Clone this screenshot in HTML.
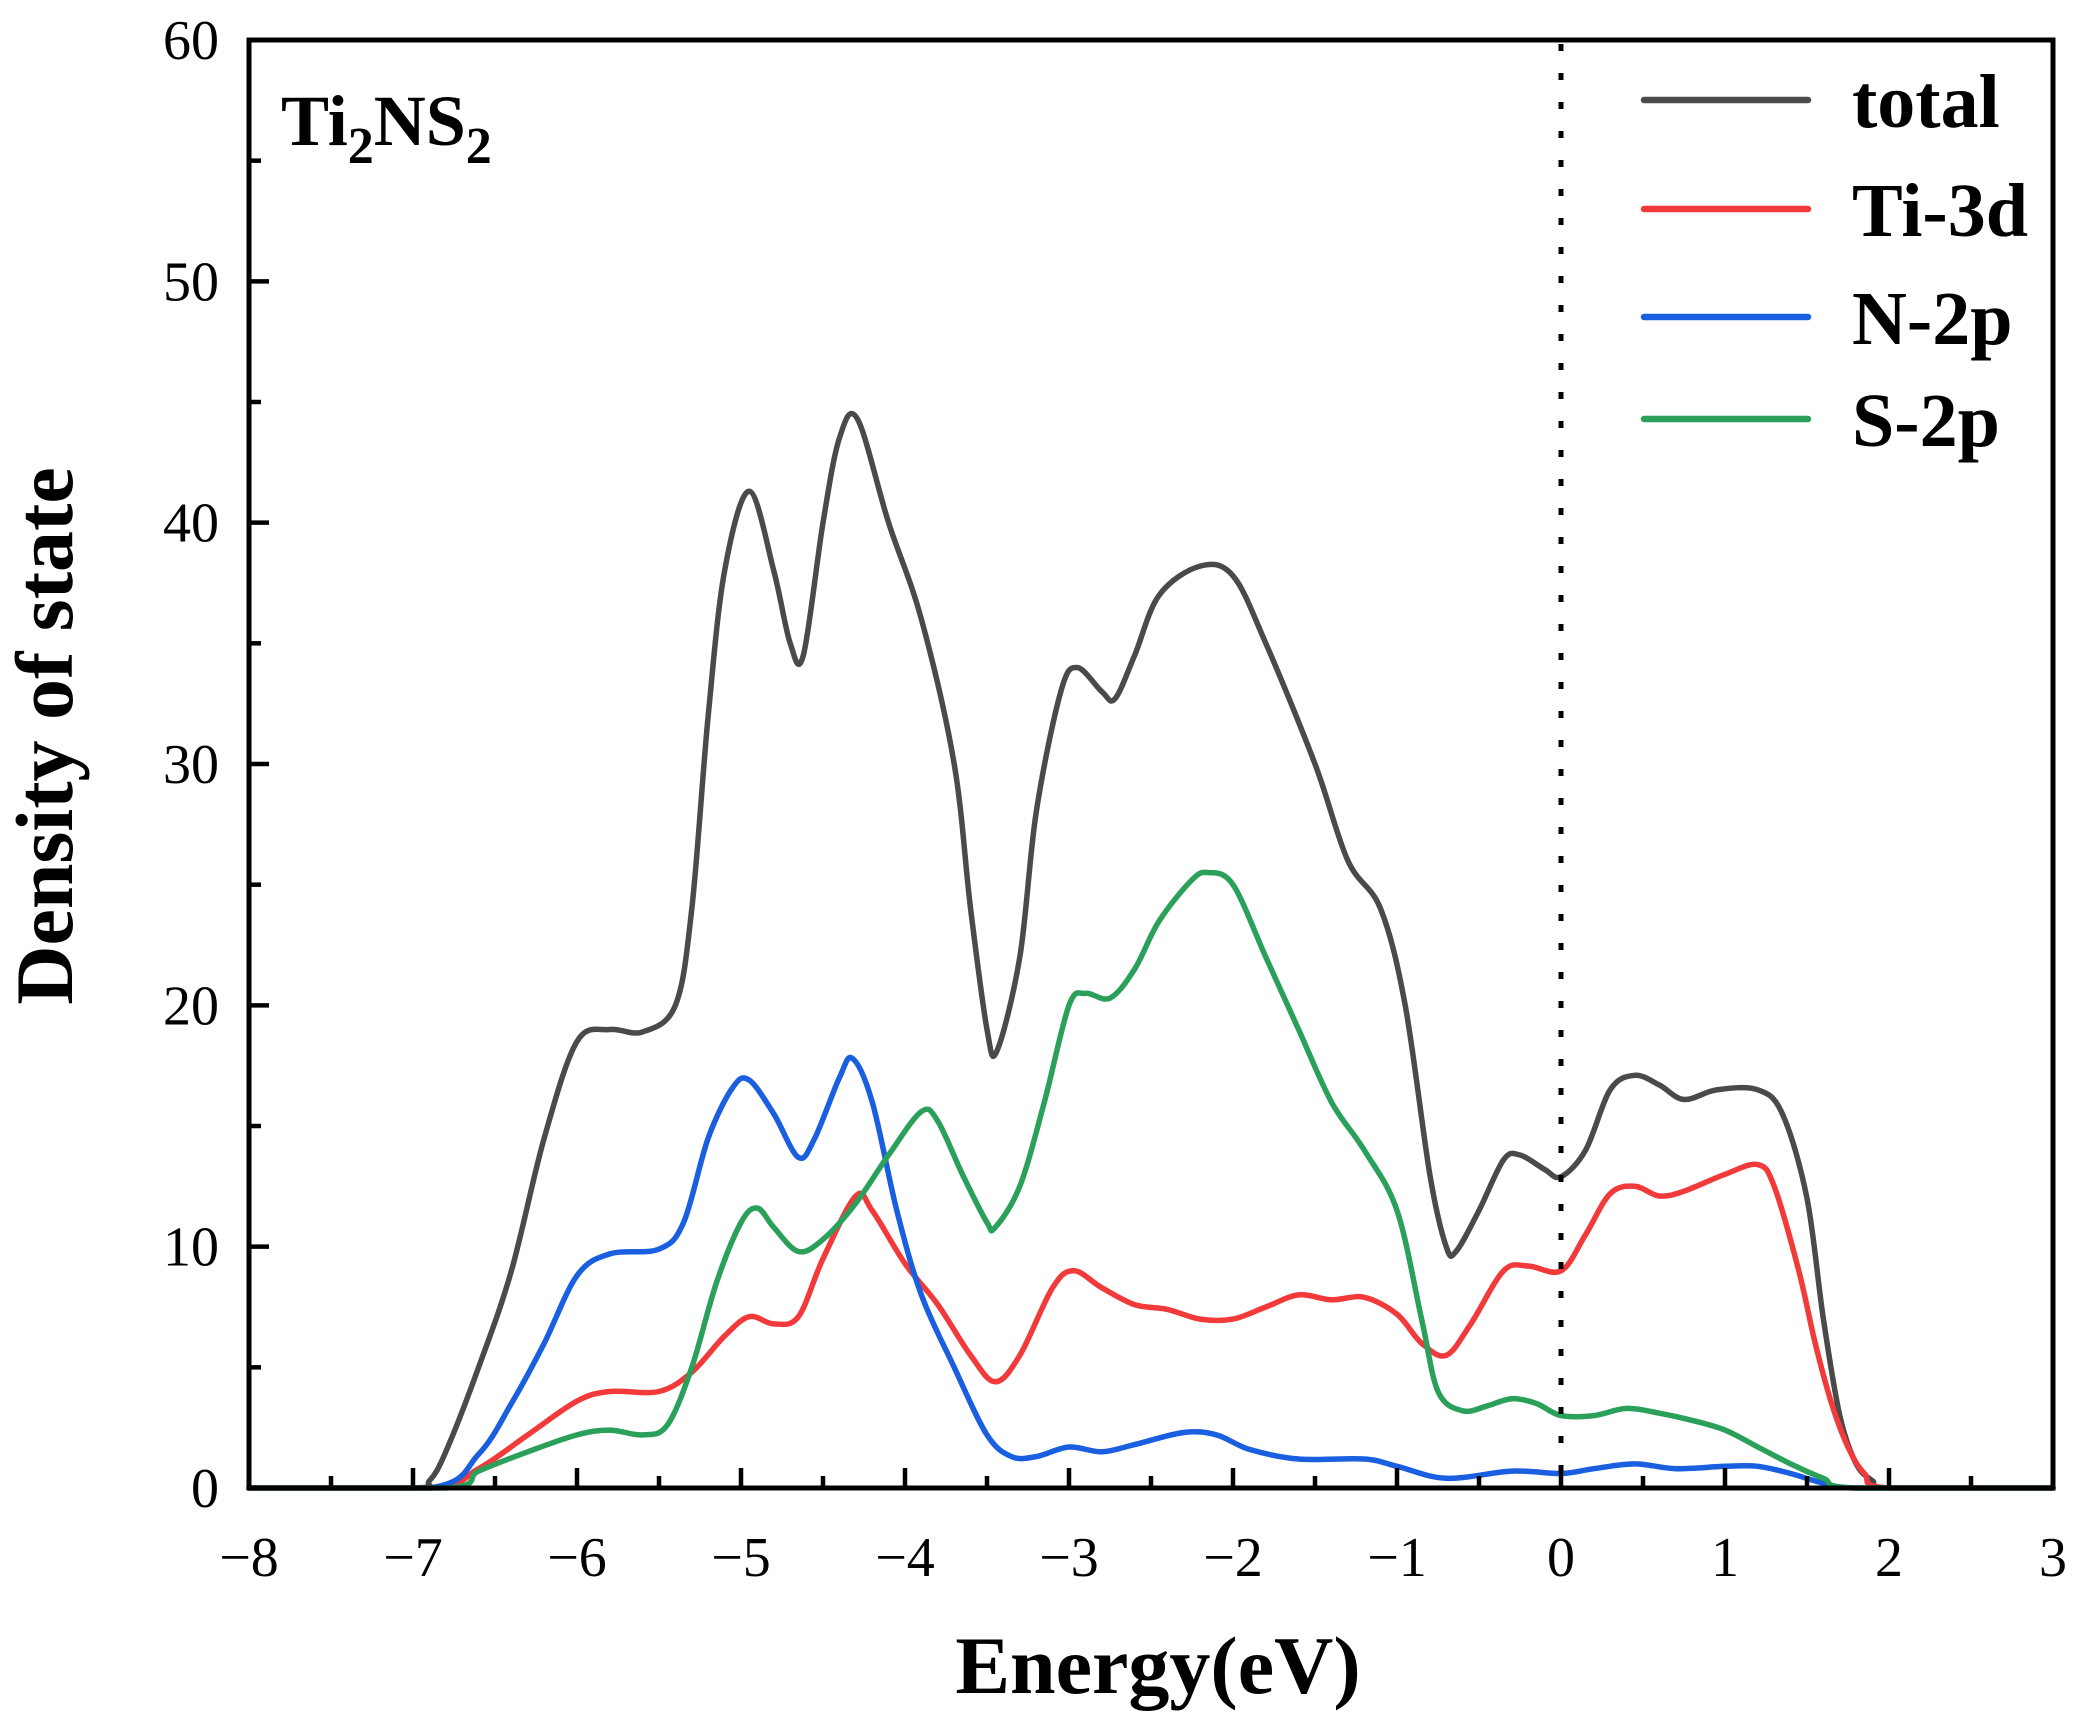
<!DOCTYPE html>
<html><head><meta charset="utf-8"><style>
html,body{margin:0;padding:0;background:#fff;}
svg{display:block;}
text{font-family:"Liberation Serif",serif;fill:#000;}
</style></head><body>
<svg id="s" width="2087" height="1720" viewBox="0 0 2087 1720" xmlns="http://www.w3.org/2000/svg">
<g id="curves" fill="none" stroke-width="5.5" stroke-linejoin="round" stroke-linecap="round"></g>
<line x1="1561" y1="44" x2="1561" y2="1486" stroke="#000" stroke-width="5" stroke-dasharray="7,22"/>
<rect x="249" y="40" width="1804" height="1448" fill="none" stroke="#000" stroke-width="5"/>
<g id="ticks" stroke="#000" stroke-width="4.5"></g>
<g id="labels" font-size="56" text-anchor="middle"></g>
<text x="281" y="145" font-size="72" font-weight="bold">Ti<tspan font-size="52" dy="18">2</tspan><tspan dy="-18">NS</tspan><tspan font-size="52" dy="18">2</tspan></text>
<g stroke-width="6.5" stroke-linecap="round">
<line x1="1644" y1="100" x2="1808" y2="100" stroke="#4a4a4a"/>
<line x1="1644" y1="209" x2="1808" y2="209" stroke="#f23a3a"/>
<line x1="1644" y1="317" x2="1808" y2="317" stroke="#1a5fe0"/>
<line x1="1644" y1="419" x2="1808" y2="419" stroke="#2aa05a"/>
</g>
<g font-size="76" font-weight="bold">
<text x="1852" y="127">total</text>
<text x="1852" y="236">Ti-3d</text>
<text x="1852" y="344">N-2p</text>
<text x="1852" y="446">S-2p</text>
</g>
<text x="1158" y="1693" font-size="82" font-weight="bold" text-anchor="middle">Energy(eV)</text>
<text transform="translate(72,736) rotate(-90)" font-size="82" font-weight="bold" text-anchor="middle">Density of state</text>
</svg>
<script>
var L=249,R=2053,T=40,B=1488;
function X(e){return L+(e+8)*(R-L)/11;}
function Y(v){return B-v*(B-T)/60;}
var NS="http://www.w3.org/2000/svg";
var tk=document.getElementById('ticks'),lb=document.getElementById('labels');
function ln(x1,y1,x2,y2){var l=document.createElementNS(NS,'line');l.setAttribute('x1',x1);l.setAttribute('y1',y1);l.setAttribute('x2',x2);l.setAttribute('y2',y2);tk.appendChild(l);}
function tx(x,y,s,a){var t=document.createElementNS(NS,'text');t.setAttribute('x',x);t.setAttribute('y',y);if(a)t.setAttribute('text-anchor',a);t.textContent=s;lb.appendChild(t);}
for(var e=-8;e<=3;e++){var x=X(e);ln(x,B,x,B-20);tx(x,B+88,e<0?'\u2212'+(-e):''+e);if(e<3){ln(X(e+0.5),B,X(e+0.5),B-12);}}
for(var v=0;v<=60;v+=10){var y=Y(v);ln(L,y,L+20,y);tx(L-30,y+19,''+v,'end');if(v<60)ln(L,Y(v+5),L+12,Y(v+5));}
var data={
"#4a4a4a":[[-8,0],[-7,0],[-6.9,0.3],[-6.8,1.5],[-6.6,5],[-6.4,9],[-6.2,14.5],[-6.0,18.5],[-5.8,19],[-5.6,18.9],[-5.4,20],[-5.3,24],[-5.2,32],[-5.1,38],[-4.95,41.3],[-4.8,38],[-4.7,35],[-4.62,34.5],[-4.5,40],[-4.4,43.5],[-4.29,44.3],[-4.1,40],[-3.9,36],[-3.7,30],[-3.6,24],[-3.5,19],[-3.44,18.1],[-3.3,22],[-3.2,28],[-3.05,33],[-2.95,34],[-2.8,33],[-2.72,32.7],[-2.6,34.5],[-2.45,37],[-2.2,38.2],[-2.0,37.8],[-1.8,35],[-1.5,30],[-1.3,26],[-1.1,24],[-0.95,20],[-0.8,13],[-0.7,10],[-0.64,9.8],[-0.5,11.5],[-0.35,13.6],[-0.25,13.8],[-0.1,13.2],[0,12.9],[0.15,14],[0.3,16.5],[0.45,17.1],[0.6,16.7],[0.75,16.1],[0.95,16.5],[1.2,16.5],[1.35,15.5],[1.5,12],[1.6,7],[1.7,3],[1.8,1],[1.9,0.3],[2,0],[3,0]],
"#f23a3a":[[-8,0],[-6.9,0],[-6.6,0.8],[-6.3,2.2],[-6.0,3.6],[-5.8,4],[-5.5,4],[-5.3,4.8],[-5.1,6.3],[-4.95,7.1],[-4.8,6.8],[-4.65,7.1],[-4.5,9.5],[-4.3,12.1],[-4.2,11.5],[-4.0,9.3],[-3.8,7.6],[-3.6,5.5],[-3.45,4.4],[-3.3,5.5],[-3.1,8.3],[-2.97,9.0],[-2.8,8.3],[-2.6,7.6],[-2.4,7.4],[-2.2,7.0],[-2.0,7.0],[-1.8,7.5],[-1.6,8.0],[-1.4,7.8],[-1.2,7.9],[-1.0,7.2],[-0.85,6.0],[-0.7,5.5],[-0.55,6.8],[-0.35,9.0],[-0.2,9.2],[0,9.0],[0.15,10.5],[0.3,12.2],[0.45,12.5],[0.6,12.1],[0.75,12.3],[1.0,13.0],[1.2,13.4],[1.3,12.5],[1.45,9],[1.55,6],[1.65,3.5],[1.75,1.7],[1.85,0.6],[2,0],[3,0]],
"#1a5fe0":[[-8,0],[-6.9,0],[-6.6,1.4],[-6.4,3.5],[-6.2,6],[-6.0,8.8],[-5.8,9.7],[-5.5,9.9],[-5.35,11],[-5.2,14.5],[-5.05,16.6],[-4.95,16.9],[-4.8,15.5],[-4.65,13.7],[-4.55,14.5],[-4.4,17],[-4.32,17.8],[-4.2,16],[-4.05,11.5],[-3.9,8],[-3.7,5],[-3.5,2.2],[-3.35,1.3],[-3.2,1.3],[-3.0,1.7],[-2.8,1.5],[-2.6,1.8],[-2.3,2.3],[-2.1,2.2],[-1.9,1.6],[-1.6,1.2],[-1.2,1.2],[-1.0,0.9],[-0.7,0.4],[-0.3,0.7],[0,0.6],[0.2,0.8],[0.45,1.0],[0.7,0.8],[1.0,0.9],[1.2,0.9],[1.4,0.6],[1.6,0.2],[1.8,0],[3,0]],
"#2aa05a":[[-8,0],[-6.8,0],[-6.6,0.7],[-6.3,1.5],[-6.0,2.2],[-5.8,2.4],[-5.6,2.2],[-5.45,2.6],[-5.3,5],[-5.15,8.5],[-5.0,11],[-4.9,11.6],[-4.8,10.8],[-4.65,9.8],[-4.5,10.3],[-4.3,11.8],[-4.1,13.8],[-3.9,15.6],[-3.8,15.2],[-3.65,13],[-3.5,11],[-3.45,10.8],[-3.3,12.5],[-3.15,16],[-3.0,20],[-2.9,20.5],[-2.75,20.3],[-2.6,21.5],[-2.45,23.5],[-2.25,25.2],[-2.15,25.5],[-2.0,25],[-1.8,22],[-1.6,19],[-1.4,16],[-1.2,14],[-1.0,11.5],[-0.85,7],[-0.75,4],[-0.6,3.2],[-0.45,3.4],[-0.3,3.7],[-0.15,3.5],[0,3.0],[0.2,3.0],[0.4,3.3],[0.6,3.1],[0.8,2.8],[1.0,2.4],[1.2,1.7],[1.4,1.0],[1.6,0.4],[1.8,0],[3,0]]
};
var g=document.getElementById('curves');
for(var c in data){var p=data[c].map(function(q){return [X(q[0]),Y(q[1])];});
var d='M'+p[0][0].toFixed(1)+','+p[0][1].toFixed(1);
for(var i=0;i<p.length-1;i++){var p0=p[i>0?i-1:i],p1=p[i],p2=p[i+1],p3=p[i+2<p.length?i+2:i+1];
var c1=[p1[0]+(p2[0]-p0[0])/6,p1[1]+(p2[1]-p0[1])/6],c2=[p2[0]-(p3[0]-p1[0])/6,p2[1]-(p3[1]-p1[1])/6];
c1[1]=Math.min(c1[1],B);c2[1]=Math.min(c2[1],B);
d+='C'+c1[0].toFixed(1)+','+c1[1].toFixed(1)+' '+c2[0].toFixed(1)+','+c2[1].toFixed(1)+' '+p2[0].toFixed(1)+','+p2[1].toFixed(1);}
var pa=document.createElementNS(NS,'path');pa.setAttribute('d',d);pa.setAttribute('stroke',c);g.appendChild(pa);}
</script>
</body></html>
